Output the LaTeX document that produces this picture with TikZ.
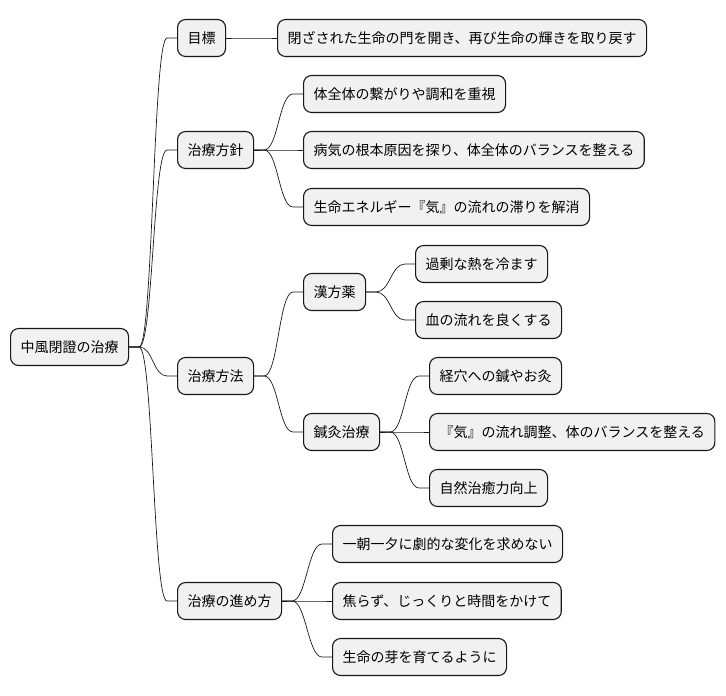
\documentclass[tikz,border=0pt]{standalone}
\usepackage{fontspec}
\setmainfont{Noto Sans CJK JP}
\usetikzlibrary{calc}
\definecolor{mmInk}{HTML}{181818}
\definecolor{mmFill}{HTML}{F1F1F1}
\tikzset{
  box/.style  ={draw=mmInk,line width=1.1pt,rounded corners=8pt,fill=mmFill,
                inner xsep=10pt,inner ysep=0pt,minimum height=37pt,
                font=\fontsize{14pt}{16pt}\selectfont,anchor=west},
  link/.style ={mmInk,line width=0.7pt},
}

\begin{document}
\begin{tikzpicture}[x=1pt,y=-1pt]
\useasboundingbox (0,0) rectangle (726,696);

% root and first level
\node[box] (root)   at (10,347)  {中風閉證の治療};
\node[box] (goal)   at (177,38)  {目標};
\node[box] (policy) at (177,150) {治療方針};
\node[box] (method) at (177,376) {治療方法};
\node[box] (course) at (177,601) {治療の進め方};

% second level
\node[box] (goal1) at (277,38)  {閉ざされた生命の門を開き、再び生命の輝きを取り戻す};
\node[box] (pol1)  at (303,94)  {体全体の繋がりや調和を重視};
\node[box] (pol2)  at (303,150) {病気の根本原因を探り、体全体のバランスを整える};
\node[box] (pol3)  at (303,207) {生命エネルギー『気』の流れの滞りを解消};
\node[box] (kampo) at (303,292) {漢方薬};
\node[box] (acu)   at (303,432) {鍼灸治療};
\node[box] (crs1)  at (332,544) {一朝一夕に劇的な変化を求めない};
\node[box] (crs2)  at (332,601) {焦らず、じっくりと時間をかけて};
\node[box] (crs3)  at (332,657) {生命の芽を育てるように};

% third level
\node[box] (herb1) at (415,264) {過剰な熱を冷ます};
\node[box] (herb2) at (415,320) {血の流れを良くする};
\node[box] (acu1)  at (429,376) {経穴への鍼やお灸};
\node[box] (acu2)  at (429,432) {『気』の流れ調整、体のバランスを整える};
\node[box] (acu3)  at (429,488) {自然治癒力向上};

% branches
\foreach \p/\c in {root/goal, root/policy, root/method, root/course,
                   goal/goal1, policy/pol1, policy/pol2, policy/pol3,
                   method/kampo, method/acu, kampo/herb1, kampo/herb2,
                   acu/acu1, acu/acu2, acu/acu3,
                   course/crs1, course/crs2, course/crs3}
{
  \draw[link] (\p.east) -- ++(10,0)
    .. controls ($(\p.east)+(24,0)$) and ($(\c.west)+(-24,0)$)
    .. ($(\c.west)+(-10,0)$) -- (\c.west);
}
\end{tikzpicture}
\end{document}
